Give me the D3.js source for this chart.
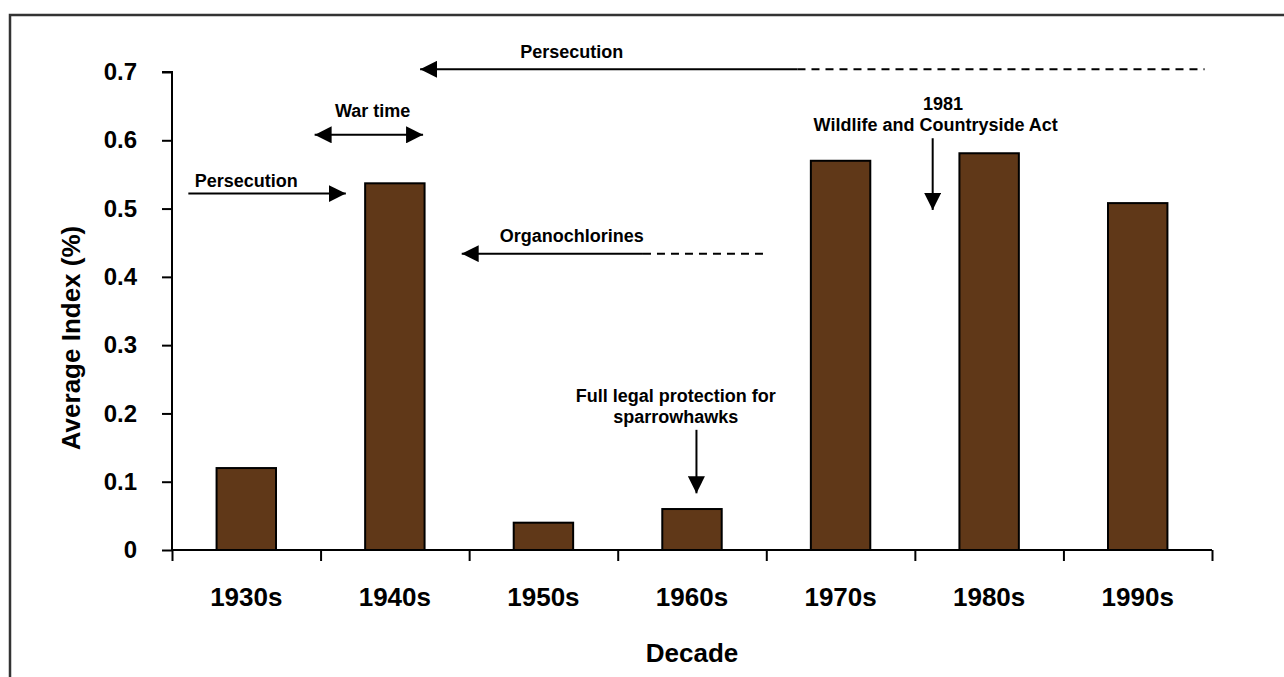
<!DOCTYPE html>
<html>
<head>
<meta charset="utf-8" />
<title>Average Index by Decade</title>
<script src="https://cdn.jsdelivr.net/npm/d3@7"></script>
<style>
  body { margin: 0; background: #fff; }
  svg text { font-family: "Liberation Sans", Arial, Helvetica, sans-serif; font-weight: bold; fill: #000; }
</style>
</head>
<body>
<div id="chart"></div>
<script>
// data
var decades = ["1930s", "1940s", "1950s", "1960s", "1970s", "1980s", "1990s"];
var avgIndex = [0.12, 0.537, 0.04, 0.06, 0.57, 0.581, 0.508];
var yTicks = [0, 0.1, 0.2, 0.3, 0.4, 0.5, 0.6, 0.7];

// annotations, placed in decade units (0..7 along the axis) and index values
var arrowNotes = [
  { from: 4.21, to: 1.67, v: 0.704, dashTo: 6.95, heads: "end" },      // top persecution
  { from: 0.96, to: 1.69, v: 0.608, dashTo: null, heads: "both" },     // war time
  { from: 0.11, to: 1.17, v: 0.522, dashTo: null, heads: "end" },      // left persecution
  { from: 3.17, to: 1.95, v: 0.434, dashTo: 3.98, heads: "end" }       // organochlorines
];
var textNotes = [
  { u: 2.69, v: 0.72, lines: ["Persecution"] },
  { u: 1.35, v: 0.634, lines: ["War time"] },
  { u: 0.5, v: 0.532, lines: ["Persecution"] },
  { u: 2.69, v: 0.451, lines: ["Organochlorines"] },
  { u: 3.39, v: 0.217, lines: ["Full legal protection for", "sparrowhawks"] },
  { u: 5.19, v: 0.645, lines: ["1981"] },
  { u: 5.14, v: 0.614, lines: ["Wildlife and Countryside Act"] }
];
var dropNotes = [
  { u: 3.53, from: 0.176, to: 0.083 },
  { u: 5.12, from: 0.603, to: 0.498 }
];

(function() {
  var width = 1284, height = 677;
  var mLeft = 172, mRight = 1212, mTop = 72, mBottom = 550;

  var svg = d3.select("#chart").append("svg")
    .attr("width", width).attr("height", height);

  // frame
  svg.append("rect").attr("x", 10).attr("y", 15).attr("width", 1300).attr("height", 700)
    .attr("fill", "none").attr("stroke", "#333").attr("stroke-width", 2.5);

  var x = d3.scaleBand().domain(decades).range([mLeft, mRight]).paddingInner(0.6).paddingOuter(0.3);
  var xu = d3.scaleLinear().domain([0, 7]).range([mLeft, mRight]);
  var y = d3.scaleLinear().domain([0, 0.7]).range([mBottom, mTop]);

  // bars
  svg.selectAll("rect.bar").data(decades).enter().append("rect")
    .attr("class", "bar")
    .attr("x", function(d) { return x(d); })
    .attr("y", function(d, i) { return y(avgIndex[i]); })
    .attr("width", x.bandwidth())
    .attr("height", function(d, i) { return y(0) - y(avgIndex[i]); })
    .attr("fill", "#603818").attr("stroke", "#000").attr("stroke-width", 2);

  // y axis
  var yAxis = svg.append("g").attr("transform", "translate(" + mLeft + ",0)")
    .call(d3.axisLeft(y).tickValues(yTicks).tickSize(10).tickPadding(25)
      .tickFormat(function(d) { return d === 0 ? "0" : d.toFixed(1); }));
  yAxis.selectAll("text").style("font-size", "24px");
  yAxis.selectAll("line, path").attr("stroke", "#000").attr("stroke-width", 2);
  yAxis.select(".domain").attr("d", "M-10," + mTop + "H0V" + mBottom);

  // x axis: boundary ticks
  var xAxis = svg.append("g").attr("transform", "translate(0," + mBottom + ")")
    .call(d3.axisBottom(xu).tickValues(d3.range(8)).tickSize(11).tickFormat(""));
  xAxis.select(".domain").attr("d", "M" + mLeft + ",0H" + mRight);
  xAxis.selectAll("line, path").attr("stroke", "#000").attr("stroke-width", 2);

  // x axis labels
  var xLab = svg.append("g").attr("transform", "translate(0," + mBottom + ")")
    .call(d3.axisBottom(x).tickSize(0).tickPadding(38));
  xLab.select(".domain").remove();
  xLab.selectAll("text").style("font-size", "26px");

  // axis titles
  svg.append("text").attr("x", (mLeft + mRight) / 2).attr("y", 662)
    .attr("text-anchor", "middle").style("font-size", "26px").text("Decade");
  svg.append("text").attr("transform", "translate(80,338) rotate(-90)")
    .attr("text-anchor", "middle").style("font-size", "26px").text("Average Index (%)");

  // arrow heads
  var defs = svg.append("defs");
  defs.append("marker").attr("id", "head").attr("viewBox", "0 0 10 10")
    .attr("refX", 10).attr("refY", 5).attr("markerWidth", 17).attr("markerHeight", 17)
    .attr("markerUnits", "userSpaceOnUse").attr("orient", "auto-start-reverse")
    .append("path").attr("d", "M0,0L10,5L0,10Z").attr("fill", "#000");

  var notes = svg.append("g");
  arrowNotes.forEach(function(a) {
    var line = notes.append("line")
      .attr("x1", xu(a.from)).attr("x2", xu(a.to))
      .attr("y1", y(a.v)).attr("y2", y(a.v))
      .attr("stroke", "#000").attr("stroke-width", 2)
      .attr("marker-end", "url(#head)");
    if (a.heads === "both") line.attr("marker-start", "url(#head)");
    if (a.dashTo != null) {
      notes.append("line")
        .attr("x1", xu(a.from)).attr("x2", xu(a.dashTo))
        .attr("y1", y(a.v)).attr("y2", y(a.v))
        .attr("stroke", "#000").attr("stroke-width", 2)
        .attr("stroke-dasharray", "8,6");
    }
  });
  dropNotes.forEach(function(a) {
    notes.append("line")
      .attr("x1", xu(a.u)).attr("x2", xu(a.u))
      .attr("y1", y(a.from)).attr("y2", y(a.to))
      .attr("stroke", "#000").attr("stroke-width", 2)
      .attr("marker-end", "url(#head)");
  });
  textNotes.forEach(function(t) {
    var tx = notes.append("text").attr("x", xu(t.u)).attr("y", y(t.v))
      .attr("text-anchor", "middle").style("font-size", "18px");
    t.lines.forEach(function(s, i) {
      tx.append("tspan").attr("x", xu(t.u)).attr("dy", i === 0 ? 0 : 21).text(s);
    });
  });
})();
</script>
</body>
</html>
